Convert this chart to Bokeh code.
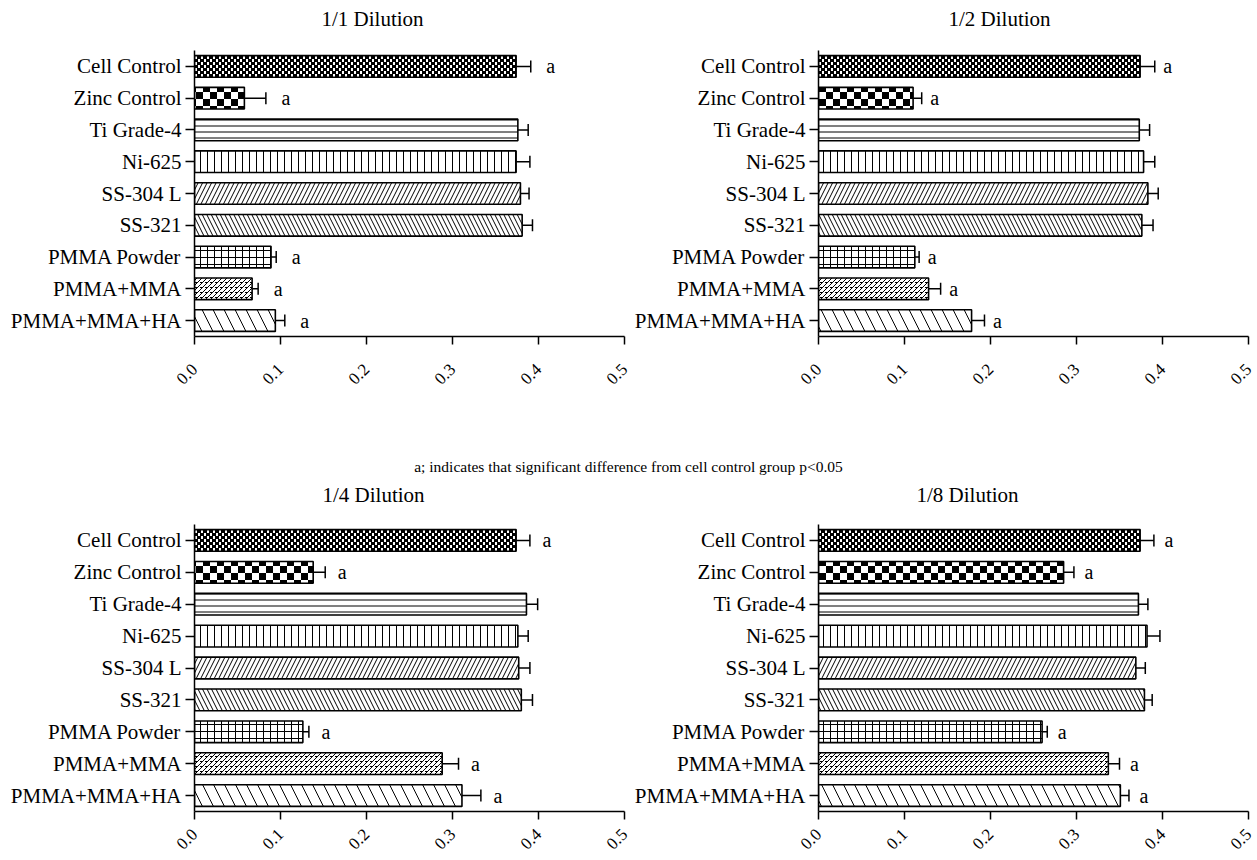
import math
import zlib
import struct
import base64
from bokeh.plotting import figure
from bokeh.models import (ColumnDataSource, FactorRange, Range1d, FixedTicker,
                          PrintfTickFormatter, Whisker, TeeHead, ImageURLTexture)
from bokeh.layouts import column, row
from bokeh.core.properties import value
from bokeh.embed import file_html
from bokeh.resources import INLINE

# ---------------- data ----------------
categories = ["Cell Control", "Zinc Control", "Ti Grade-4", "Ni-625", "SS-304 L",
              "SS-321", "PMMA Powder", "PMMA+MMA", "PMMA+MMA+HA"]
significant = [True, True, False, False, False, False, True, True, True]

mean_1_1 = [0.374, 0.058, 0.376, 0.374, 0.379, 0.381, 0.089, 0.067, 0.094]
err_1_1 = [0.017, 0.025, 0.012, 0.016, 0.010, 0.012, 0.006, 0.007, 0.011]

mean_1_2 = [0.374, 0.110, 0.373, 0.378, 0.383, 0.376, 0.112, 0.128, 0.178]
err_1_2 = [0.017, 0.010, 0.012, 0.013, 0.012, 0.013, 0.005, 0.014, 0.015]

mean_1_4 = [0.374, 0.138, 0.386, 0.376, 0.377, 0.380, 0.126, 0.288, 0.311]
err_1_4 = [0.016, 0.014, 0.013, 0.012, 0.013, 0.013, 0.007, 0.019, 0.022]

mean_1_8 = [0.374, 0.285, 0.372, 0.382, 0.369, 0.379, 0.260, 0.337, 0.351]
err_1_8 = [0.016, 0.012, 0.011, 0.015, 0.011, 0.009, 0.006, 0.013, 0.010]

x_ticks = [0.0, 0.1, 0.2, 0.3, 0.4, 0.5]
titles = ["1/1 Dilution", "1/2 Dilution", "1/4 Dilution", "1/8 Dilution"]
sig_label = "a"
note_text = "a; indicates that significant difference from cell control group p<0.05"

# ---------------- styles / layout constants ----------------
FONT = "Liberation Serif"
TOTAL_W = 1256
LEFT_W = 632            # width of left-column figures
BL_LEFT, BL_RIGHT = 194, 6
BR_LEFT, BR_RIGHT = 188, 8
FRAME_W = 430


def png_url(w, h, is_black):
    raw = b"".join(b"\x00" + bytes(0 if is_black(x, y) else 255 for x in range(w))
                   for y in range(h))

    def chunk(tag, data):
        return (struct.pack(">I", len(data)) + tag + data +
                struct.pack(">I", zlib.crc32(tag + data) & 0xffffffff))
    png = (b"\x89PNG\r\n\x1a\n" +
           chunk(b"IHDR", struct.pack(">IIBBBBB", w, h, 8, 0, 0, 0, 0)) +
           chunk(b"IDAT", zlib.compress(raw)) + chunk(b"IEND", b""))
    return "data:image/png;base64," + base64.b64encode(png).decode()


textures = {
    "fine_checker": ImageURLTexture(
        url=png_url(6, 6, lambda x, y: (x // 3 + y // 3) % 2 == 0 or x % 3 == 2)),
    "coarse_checker": ImageURLTexture(
        url=png_url(14, 14, lambda x, y: (x // 7 + y // 7) % 2 == 0)),
    "brick_diag": ImageURLTexture(
        url=png_url(5, 5, lambda x, y: (x + y) % 5 == 4 or (y == 2 and x <= 2))),
}
patterns = ["fine_checker", "coarse_checker", "-", "|", "/", "\\", "+", "brick_diag", "\\"]
hatch_scales = [6, 14, 6, 7, 9, 9, 7, 5, 22]


def make_panel(means, errs, border_left, border_right, border_bottom, frame_h,
               a_offset, tick_standoff):
    upper = [m + e for m, e in zip(means, errs)]
    src = ColumnDataSource(dict(cat=categories, mean=means, upper=upper,
                                pattern=patterns, hscale=hatch_scales))
    p = figure(y_range=FactorRange(factors=categories[::-1], range_padding=0,
                                   factor_padding=0),
               x_range=Range1d(0, 0.5), frame_width=FRAME_W, frame_height=frame_h,
               min_border_left=border_left, min_border_right=border_right,
               min_border_top=0, min_border_bottom=border_bottom,
               toolbar_location=None, output_backend="svg")
    p.hbar(y="cat", left=0, right="mean", height=0.68, source=src,
           fill_color="white", line_color="black", line_width=1.6,
           hatch_pattern="pattern", hatch_scale="hscale", hatch_weight=1,
           hatch_color="black", hatch_extra=textures)
    p.add_layout(Whisker(base="cat", lower="mean", upper="upper", source=src,
                         dimension="width", line_color="black", line_width=1.5,
                         lower_head=None,
                         upper_head=TeeHead(size=12, line_color="black",
                                            line_width=1.5)))
    sig_cats = [c for c, s in zip(categories, significant) if s]
    sig_x = [u for u, s in zip(upper, significant) if s]
    sig_src = ColumnDataSource(dict(cat=sig_cats, x=sig_x,
                                    label=[sig_label] * len(sig_cats)))
    p.text(x="x", y="cat", text="label", source=sig_src, x_offset=a_offset,
           text_align="center", text_baseline="middle",
           text_font=value(FONT), text_font_size="20px", text_color="black")

    p.grid.visible = False
    p.outline_line_color = None
    p.background_fill_color = "white"
    p.border_fill_color = "white"

    xa = p.xaxis[0]
    xa.ticker = FixedTicker(ticks=x_ticks)
    xa.formatter = PrintfTickFormatter(format="%.1f")
    xa.major_label_orientation = math.pi / 4
    xa.major_label_standoff = tick_standoff
    xa.minor_tick_line_color = None
    xa.major_tick_in = 0
    xa.major_tick_out = 8
    xa.axis_line_width = 1.5
    xa.major_tick_line_width = 1.5
    xa.axis_line_color = "black"
    xa.major_tick_line_color = "black"
    xa.major_label_text_font = FONT
    xa.major_label_text_font_size = "17px"
    xa.major_label_text_color = "black"

    ya = p.yaxis[0]
    ya.major_tick_in = 0
    ya.major_tick_out = 9
    ya.major_label_standoff = 4
    ya.axis_line_width = 1.5
    ya.major_tick_line_width = 1.5
    ya.axis_line_color = "black"
    ya.major_tick_line_color = "black"
    ya.major_label_text_font = FONT
    ya.major_label_text_font_size = "21px"
    ya.major_label_text_color = "black"
    return p


def text_strip(height, xs, ys, texts, aligns, sizes):
    s = figure(width=TOTAL_W, height=height, x_range=Range1d(0, TOTAL_W),
               y_range=Range1d(0, height), x_axis_type=None, y_axis_type=None,
               toolbar_location=None, output_backend="svg", min_border=0)
    s.grid.visible = False
    s.outline_line_color = None
    src = ColumnDataSource(dict(x=xs, y=ys, text=texts, align=aligns, size=sizes))
    s.text(x="x", y="y", text="text", source=src, text_align="align",
           text_font_size="size", text_baseline="middle",
           text_font=value(FONT), text_color="black")
    return s


# header strip: titles of the upper panels (50 px tall, text centred 18 px from top)
header = text_strip(50, [BL_LEFT + 127, LEFT_W + BR_LEFT + 128], [32, 32],
                    titles[:2], ["left", "left"], ["21px", "21px"])

p11 = make_panel(mean_1_1, err_1_1, BL_LEFT, BL_RIGHT, 112, 286, 20, 22)
p12 = make_panel(mean_1_2, err_1_2, BR_LEFT, BR_RIGHT, 112, 286, 13, 22)

# middle strip: footnote + titles of the lower panels (76 px tall)
middle = text_strip(76, [TOTAL_W / 2, BL_LEFT + 128, LEFT_W + BR_LEFT + 96],
                    [58, 29.5, 29.5], [note_text, titles[2], titles[3]],
                    ["center", "left", "left"], ["15.5px", "21px", "21px"])

p14 = make_panel(mean_1_4, err_1_4, BL_LEFT, BL_RIGHT, 49, 287, 17, 12)
p18 = make_panel(mean_1_8, err_1_8, BR_LEFT, BR_RIGHT, 49, 287, 15, 12)

layout = column(header, row(p11, p12), middle, row(p14, p18))

open("out.html", "w").write(file_html(layout, INLINE))
